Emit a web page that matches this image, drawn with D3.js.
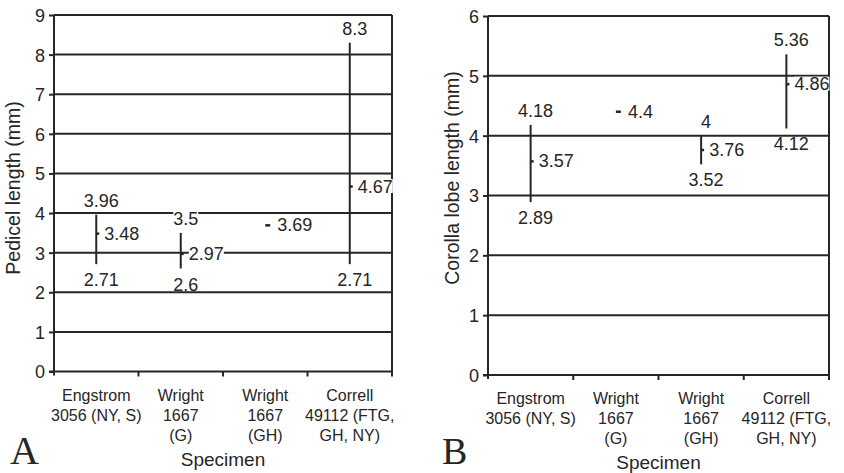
<!DOCTYPE html>
<html><head><meta charset="utf-8">
<script src="https://cdn.jsdelivr.net/npm/d3@7"></script>
<style>
html,body{margin:0;padding:0;background:#fff;}
svg{display:block;font-family:"Liberation Sans",Arial,sans-serif;}
</style></head>
<body><svg id="c" width="844" height="473"></svg>
<script>
// ---- data ----
const categories = [["Engstrom","3056 (NY, S)"],["Wright","1667","(G)"],["Wright","1667","(GH)"],["Correll","49112 (FTG,","GH, NY)"]];
const pedicelMin  = [2.71, 2.6, 3.69, 2.71];
const pedicelMax  = [3.96, 3.5, 3.69, 8.3];
const pedicelMean = [3.48, 2.97, 3.69, 4.67];
const pedicelTicks = [0,1,2,3,4,5,6,7,8,9];
const corollaMin  = [2.89, 4.4, 3.52, 4.12];
const corollaMax  = [4.18, 4.4, 4, 5.36];
const corollaMean = [3.57, 4.4, 3.76, 4.86];
const corollaTicks = [0,1,2,3,4,5,6];

const ink = "#262626";
const svg = d3.select("#c");

function panel(opt){
  const g = svg.append("g");
  const x = d3.scaleBand().domain(d3.range(categories.length)).range([opt.x0, opt.x1]).padding(0);
  const ymax = d3.max(opt.ticks);
  const y = d3.scaleLinear().domain([0, ymax]).range([opt.yb, opt.yt]);
  const cx = i => x(i) + x.bandwidth()/2;

  // gridlines
  g.selectAll("line.grid").data(opt.ticks.filter(t => t>0)).join("line")
    .attr("x1", opt.x0).attr("x2", opt.x1)
    .attr("y1", d => y(d)).attr("y2", d => y(d))
    .attr("stroke", ink).attr("stroke-width", 2);
  // right border
  g.append("line").attr("x1", opt.x1).attr("x2", opt.x1).attr("y1", y(ymax)).attr("y2", y(0)+4)
    .attr("stroke", ink).attr("stroke-width", 2);

  // y axis
  const ya = g.append("g").attr("transform", `translate(${opt.x0},0)`)
    .call(d3.axisLeft(y).tickValues(opt.ticks).tickSize(5).tickPadding(4).tickFormat(d3.format("d")));
  ya.select(".domain").attr("stroke", ink).attr("stroke-width", 2).attr("d", `M-0,${y(ymax)}V${y(0)+4}`);
  ya.selectAll(".tick line").attr("stroke", ink).attr("stroke-width", 2);
  ya.selectAll(".tick text").attr("fill", ink).style("font-size", "18px").attr("dy", "0.36em");

  // x axis
  const xa = g.append("g").attr("transform", `translate(0,${y(0)})`);
  xa.append("line").attr("x1", opt.x0-5).attr("x2", opt.x1).attr("stroke", ink).attr("stroke-width", 2);
  xa.selectAll("line.xt").data(d3.range(1, categories.length+1)).join("line")
    .attr("x1", i => i < categories.length ? x(i) : opt.x1).attr("x2", i => i < categories.length ? x(i) : opt.x1)
    .attr("y1", 0).attr("y2", 5).attr("stroke", ink).attr("stroke-width", 2);
  categories.forEach((lines, i) => {
    const t = xa.append("text").attr("text-anchor", "middle").attr("fill", ink).style("font-size", "16px");
    lines.forEach((s, k) => t.append("tspan").attr("x", cx(i)).attr("y", 29 + k*20).text(s));
  });

  // titles
  g.append("text").attr("x", (opt.x0+opt.x1)/2).attr("y", opt.yb + 94).attr("text-anchor", "middle")
    .attr("fill", ink).style("font-size", "19px").text("Specimen");
  g.append("text").attr("transform", `translate(${opt.titleX},${opt.titleY}) rotate(-90)`)
    .attr("text-anchor", "middle").attr("fill", ink).style("font-size", "19.5px").text(opt.title);
  g.append("text").attr("x", opt.letterX).attr("y", opt.letterY).attr("fill", ink)
    .style("font-family", "'Liberation Serif','Times New Roman',serif").style("font-size", opt.letterSize + "px")
    .text(opt.letter);

  // data marks
  const labels = [];
  categories.forEach((_, i) => {
    const lo = opt.min[i], hi = opt.max[i], mu = opt.mean[i], c = cx(i);
    if (lo === hi) {
      g.append("line").attr("x1", c).attr("x2", c+5).attr("y1", y(mu)).attr("y2", y(mu))
        .attr("stroke", ink).attr("stroke-width", 2.5);
      labels.push({x: c+12, y: y(mu)+6, a: "start", t: String(mu)});
    } else {
      g.append("line").attr("x1", c).attr("x2", c).attr("y1", y(hi)).attr("y2", y(lo))
        .attr("stroke", ink).attr("stroke-width", 2);
      g.append("line").attr("x1", c).attr("x2", c+3).attr("y1", y(mu)).attr("y2", y(mu))
        .attr("stroke", ink).attr("stroke-width", 2.5);
      labels.push({x: c+5, y: y(hi)-8, a: "middle", t: String(hi)});
      labels.push({x: c+8, y: y(mu)+6, a: "start", t: String(mu)});
      labels.push({x: c+5, y: y(lo)+22, a: "middle", t: String(lo)});
    }
  });
  labels.forEach(L => {
    const bg = g.append("rect").attr("fill", "#fff");
    const t = g.append("text").attr("x", L.x).attr("y", L.y).attr("text-anchor", L.a)
      .attr("fill", ink).style("font-size", "18px").text(L.t);
    const b = t.node().getBBox();
    bg.attr("x", b.x).attr("width", b.width).attr("y", L.y - 13.5).attr("height", 14);
  });
}

panel({x0: 54, x1: 392, yt: 15, yb: 371.5, ticks: pedicelTicks,
  min: pedicelMin, max: pedicelMax, mean: pedicelMean,
  title: "Pedicel length (mm)", titleX: 20, titleY: 188,
  letter: "A", letterX: 10, letterY: 464, letterSize: 40});
panel({x0: 488, x1: 829, yt: 16, yb: 375, ticks: corollaTicks,
  min: corollaMin, max: corollaMax, mean: corollaMean,
  title: "Corolla lobe length (mm)", titleX: 459, titleY: 178,
  letter: "B", letterX: 442, letterY: 464, letterSize: 38});
</script></body></html>
